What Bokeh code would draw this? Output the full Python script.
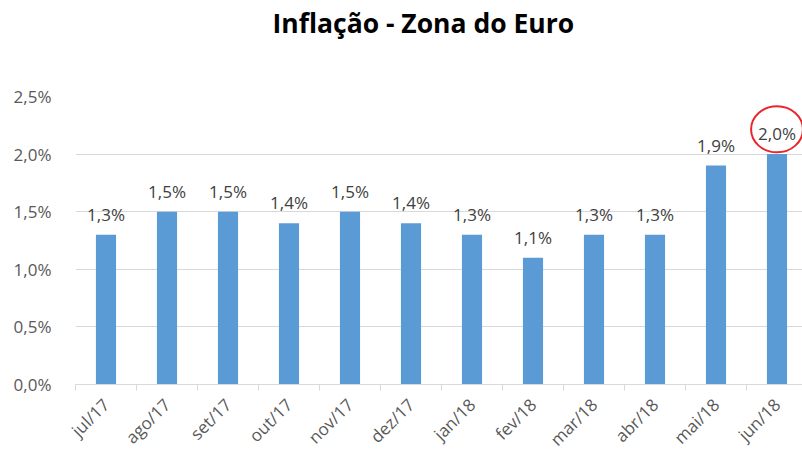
import math
from bokeh.plotting import figure
from bokeh.models import FixedTicker, ColumnDataSource, Range1d, Title
from bokeh.core.properties import value
from bokeh.embed import file_html
from bokeh.resources import INLINE

months = ["jul/17", "ago/17", "set/17", "out/17", "nov/17", "dez/17",
          "jan/18", "fev/18", "mar/18", "abr/18", "mai/18", "jun/18"]
inflation = [1.3, 1.5, 1.5, 1.4, 1.5, 1.4, 1.3, 1.1, 1.3, 1.3, 1.9, 2.0]
y_ticks = [0.0, 0.5, 1.0, 1.5, 2.0, 2.5]
title_text = "Inflação - Zona do Euro"


def pct(v):
    return f"{v:.1f}".replace(".", ",") + "%"


xs = [i + 0.5 for i in range(len(months))]
src = ColumnDataSource(dict(x=xs, top=inflation, label=[pct(v) for v in inflation]))

FONT = "Open Sans"
GRID = "#D9D9D9"
LABEL_SIZE = "17px"

p = figure(width=802, height=461, output_backend="svg", toolbar_location=None,
           x_range=Range1d(0, 727 / 61), y_range=Range1d(0, 2.5),
           min_border_left=75, min_border_right=0, min_border_top=95,
           min_border_bottom=76)
p.outline_line_color = None
p.background_fill_color = "white"
p.border_fill_color = "white"

# blank spacer panel between the frame and the title (pushes the title up)
p.add_layout(Title(text=" ", text_font_size="10px", standoff=41), "above")
# chart title
p.add_layout(Title(text=title_text, text_font=FONT, text_font_style="bold",
                   text_font_size="26.5px", text_color="#000000",
                   align="left", offset=197, standoff=4), "above")

p.vbar(x="x", top="top", width=0.33, source=src, color="#5B9BD5", line_color=None)
p.text(x="x", y="top", text="label", source=src, text_align="center",
       text_baseline="bottom", y_offset=-9, text_font=value(FONT),
       text_font_size=LABEL_SIZE, text_color="#404040")

# highlight ellipse around the last (highest) value label
imax = inflation.index(max(inflation))
p.ellipse(x=[xs[imax]], y=[inflation[imax] + 0.215], width=0.85, height=0.40,
          fill_alpha=0, line_color="#E8262B", line_width=2)

# x axis
xa = p.xaxis[0]
xa.ticker = FixedTicker(ticks=xs, minor_ticks=list(range(len(months) + 1)))
xa.major_label_overrides = {x: m for x, m in zip(xs, months)}
xa.major_label_orientation = math.pi / 4
xa.major_tick_line_color = None
xa.minor_tick_line_color = GRID
xa.minor_tick_out = 6
xa.minor_tick_in = 0
xa.axis_line_color = GRID
xa.major_label_text_font = FONT
xa.major_label_text_font_size = LABEL_SIZE
xa.major_label_text_color = "#595959"
xa.major_label_standoff = 11

# y axis
ya = p.yaxis[0]
ya.ticker = FixedTicker(ticks=y_ticks)
ya.major_label_overrides = {t: pct(t) for t in y_ticks}
ya.axis_line_color = None
ya.major_tick_line_color = None
ya.minor_tick_line_color = None
ya.major_label_text_font = FONT
ya.major_label_text_font_size = LABEL_SIZE
ya.major_label_text_color = "#595959"
ya.major_label_standoff = 18

p.xgrid.grid_line_color = None
p.ygrid.grid_line_color = GRID
p.ygrid.grid_line_width = 1

open("out.html", "w").write(file_html(p, INLINE))
